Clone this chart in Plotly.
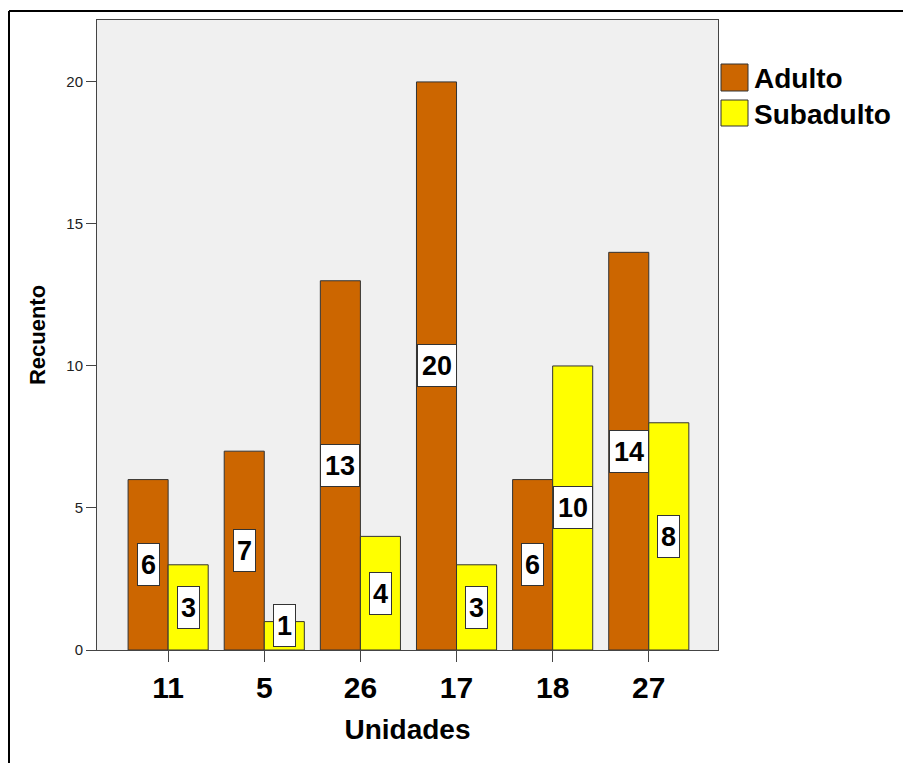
import plotly.graph_objects as go

# Recuento por unidad y grupo de edad
unidades = ["11", "5", "26", "17", "18", "27"]
adulto = [6, 7, 13, 20, 6, 14]
subadulto = [3, 1, 4, 3, 10, 8]

series = [
    ("Adulto", adulto, "#CC6600", -20),
    ("Subadulto", subadulto, "#FFFF00", 20),
]

W, H = 903, 763
ML, MR, MT, MB = 97, 185, 20, 113
PW, PH = W - ML - MR, H - MT - MB


def px_x(x):
    return (x - ML) / PW


def px_y(y):
    return (H - MB - y) / PH


FONT = "Liberation Sans, Arial, sans-serif"

fig = go.Figure()
for name, vals, color, _ in series:
    fig.add_trace(go.Bar(
        x=unidades, y=vals, name=name,
        marker=dict(color=color, line=dict(color="#333333", width=1)),
        showlegend=False,
    ))

annotations = []
for name, vals, color, shift in series:
    for i, v in enumerate(vals):
        txt = str(v)
        annotations.append(dict(
            x=i, y=max(v / 2, 0.86), xref="x", yref="y",
            xshift=shift, text=f"<b>{txt}</b>", showarrow=False,
            font=dict(family=FONT, size=27, color="black"),
            bgcolor="white", bordercolor="#333333", borderwidth=1, borderpad=1,
            width=19 if len(txt) == 1 else 36, height=39,
            xanchor="center", yanchor="middle", align="center",
        ))

# Leyenda dibujada a mano
shapes = []
legend_rows = [("Adulto", "#CC6600", 64, 91), ("Subadulto", "#FFFF00", 100, 126)]
for name, color, y0, y1 in legend_rows:
    shapes.append(dict(
        type="rect", xref="paper", yref="paper",
        x0=px_x(721), x1=px_x(748), y0=px_y(y1), y1=px_y(y0),
        fillcolor=color, line=dict(color="#333333", width=1),
    ))
    annotations.append(dict(
        x=px_x(752), y=px_y((y0 + y1) / 2 + 1), xref="paper", yref="paper",
        text=f"<b>{name}</b>", showarrow=False, xanchor="left", yanchor="middle",
        font=dict(family=FONT, size=28, color="black"),
    ))

# Marco exterior
shapes.append(dict(type="line", xref="paper", yref="paper",
                   x0=px_x(9), x1=px_x(W + 5), y0=px_y(11), y1=px_y(11),
                   line=dict(color="black", width=2)))
shapes.append(dict(type="line", xref="paper", yref="paper",
                   x0=px_x(9), x1=px_x(9), y0=px_y(11), y1=px_y(H + 5),
                   line=dict(color="black", width=2)))

fig.update_layout(
    width=W, height=H,
    margin=dict(l=ML, r=MR, t=MT, b=MB),
    paper_bgcolor="white", plot_bgcolor="#F0F0F0",
    barmode="group", bargap=0.1667, bargroupgap=0,
    font=dict(family=FONT, color="black"),
    annotations=annotations, shapes=shapes,
    xaxis=dict(
        type="category", range=[-0.74, 5.72],
        showline=True, linecolor="#444444", linewidth=1, mirror=True,
        ticks="outside", ticklen=11, tickcolor="#444444",
        tickfont=dict(family=FONT, size=30, color="black"),
        tickprefix="<b>", ticksuffix="</b>",
        showgrid=False,
        title=dict(text="<b>Unidades</b>", font=dict(family=FONT, size=28, color="black"), standoff=16),
    ),
    yaxis=dict(
        range=[0, 22.18],
        tickvals=[0, 5, 10, 15, 20],
        showline=True, linecolor="#444444", linewidth=1, mirror=True,
        ticks="outside", ticklen=10, tickcolor="#444444",
        tickfont=dict(family=FONT, size=15, color="#222222"),
        showgrid=False, zeroline=False,
        title=dict(text="<b>Recuento</b>", font=dict(family=FONT, size=22, color="black"), standoff=14),
    ),
)

fig.write_html("out.html")
